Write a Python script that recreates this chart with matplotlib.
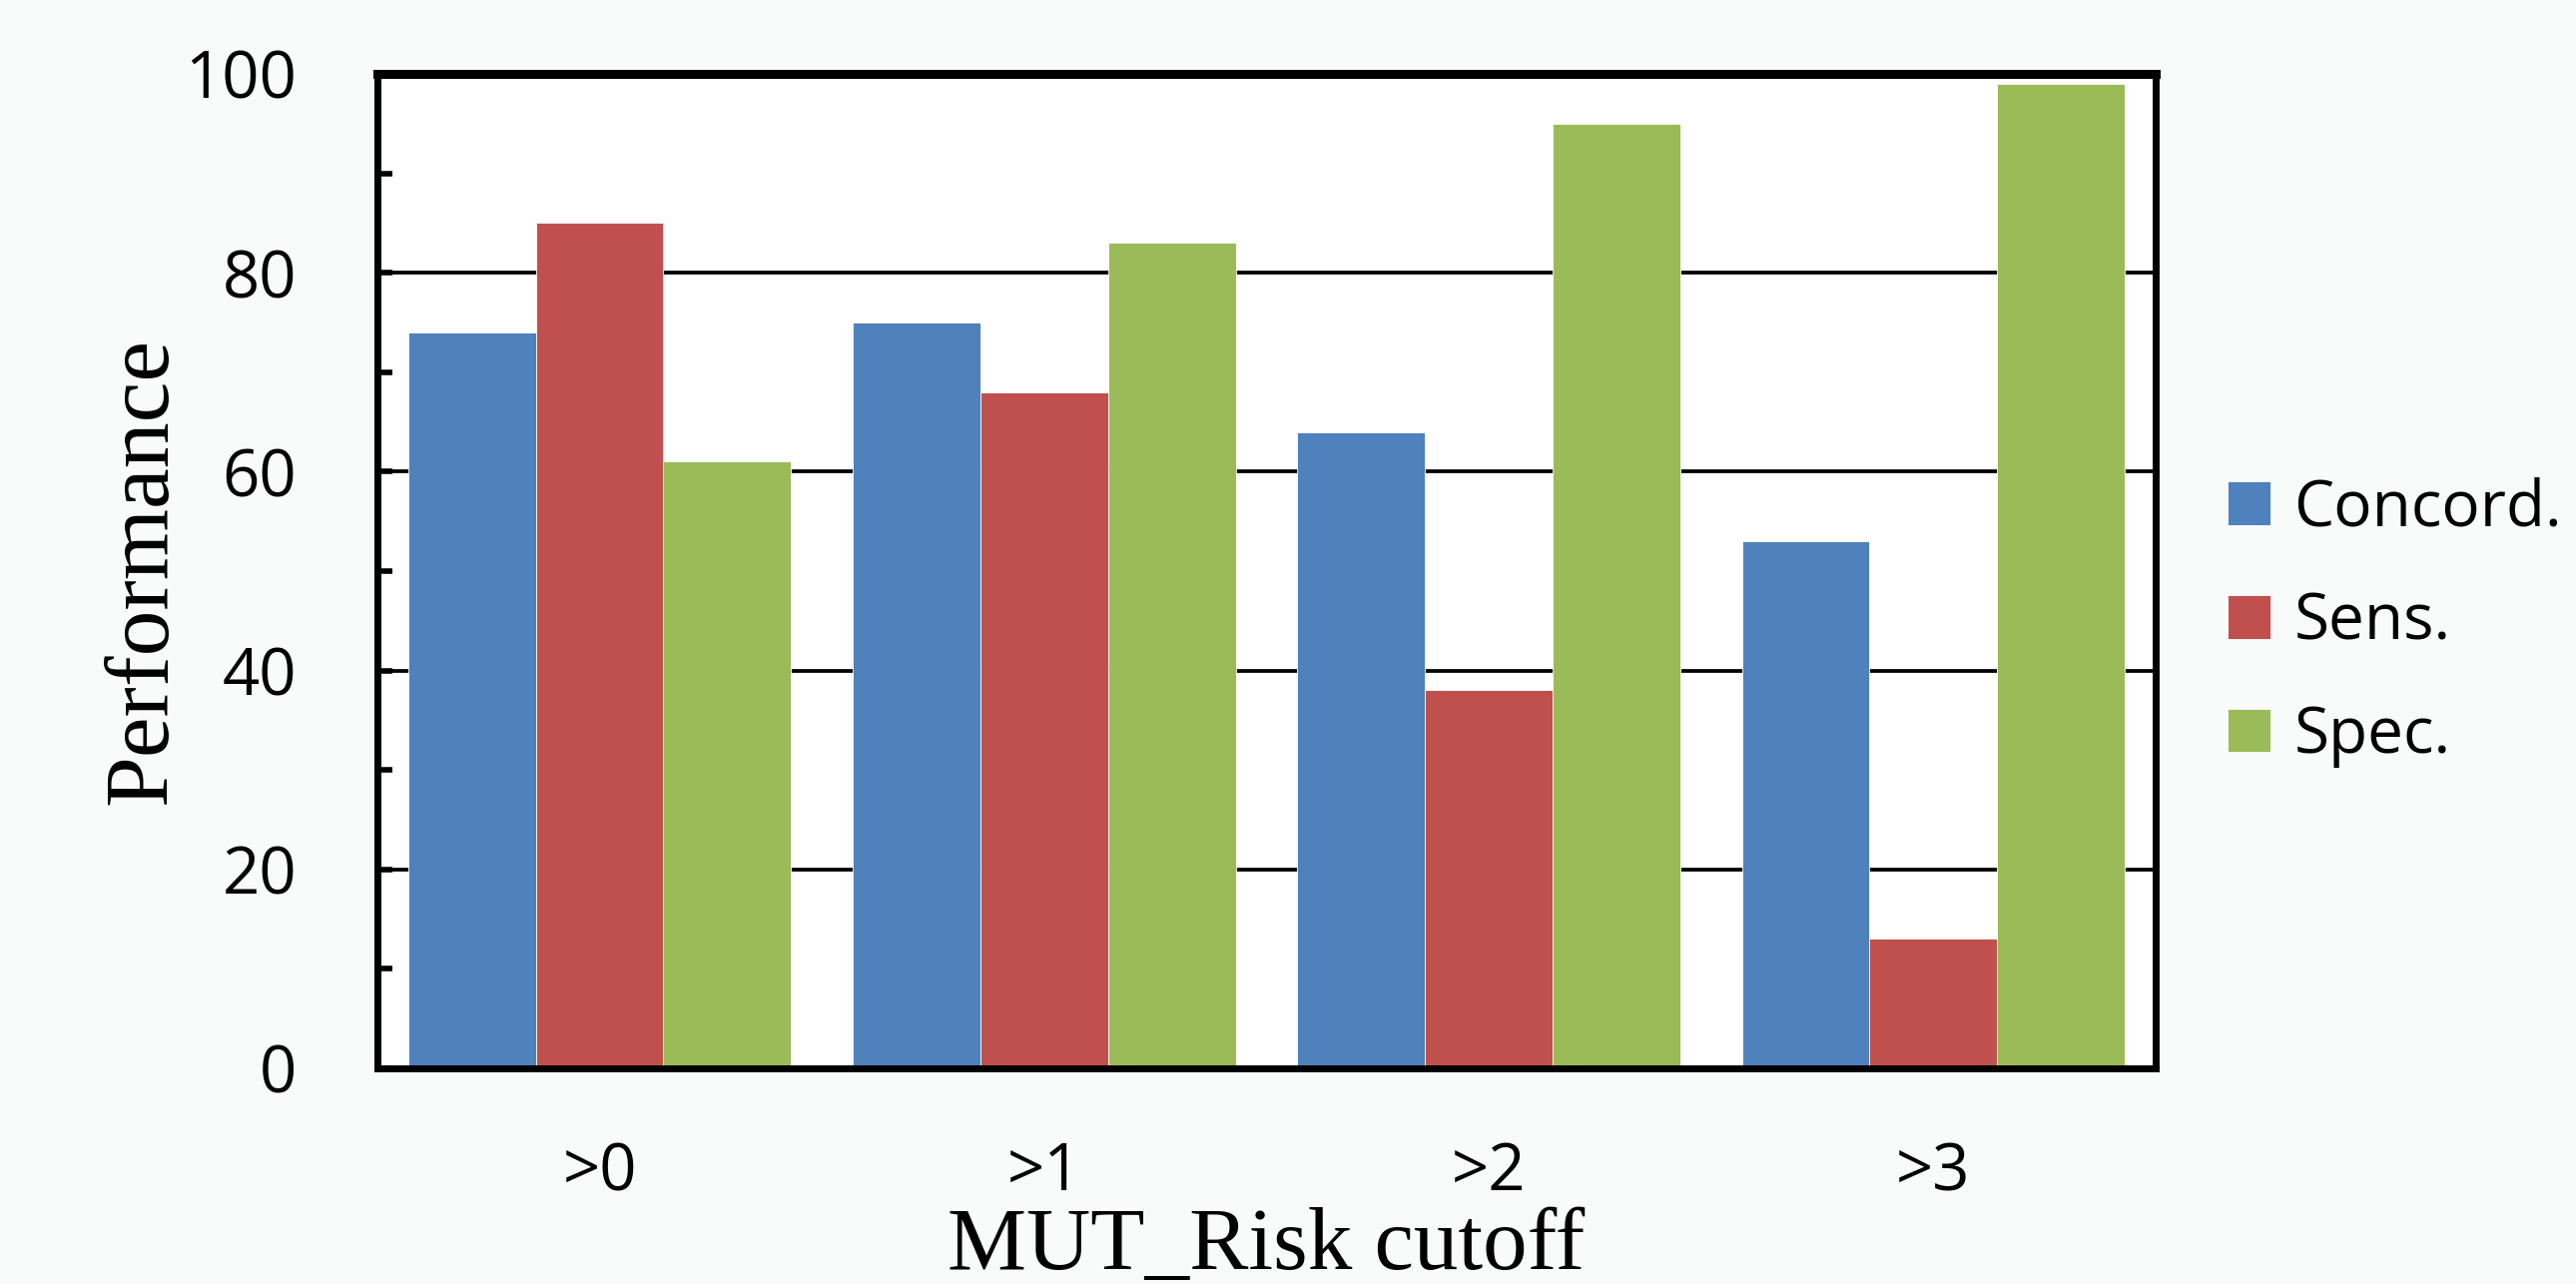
import matplotlib.pyplot as plt
import numpy as np

# values
cutoffs = ['>0', '>1', '>2', '>3']
concord = [74, 75, 64, 53]
sens = [85, 68, 38, 13]
spec = [61, 83, 95, 99]
series_names = ['Concord.', 'Sens.', 'Spec.']
colors = ['#4F81BD', '#C0504D', '#9BBB59']

fig = plt.figure(figsize=(25.8, 12.86), dpi=100, facecolor='#f9fafa')
ax = fig.add_axes([0.1465, 0.168, 0.6903, 0.7745])
ax.set_facecolor('white')

x = np.arange(len(cutoffs))
w = 0.287
for i, (vals, name, c) in enumerate(zip([concord, sens, spec], series_names, colors)):
    ax.bar(x + (i - 1) * w, vals, width=w, color=c, label=name, zorder=3,
           edgecolor='white', linewidth=0.6)

ax.set_xlim(-0.5, 3.5)
ax.set_ylim(0, 100)
ax.set_yticks([0, 20, 40, 60, 80, 100])
ax.set_yticks([10, 30, 50, 70, 90], minor=True)
ax.set_xticks(x)
ax.set_xticklabels(cutoffs)

tick_font = 'Open Sans'
for lab in ax.get_xticklabels() + ax.get_yticklabels():
    lab.set_fontfamily(tick_font)
    lab.set_fontsize(47)

ax.yaxis.grid(True, color='black', linewidth=2.7, zorder=1)
ax.set_axisbelow(True)
ax.tick_params(axis='y', which='major', direction='in', length=11, width=4, pad=58)
ax.tick_params(axis='y', which='minor', direction='in', length=11, width=4)
ax.tick_params(axis='x', length=0, pad=52)

for side in ['left', 'right', 'bottom']:
    ax.spines[side].set_linewidth(5)
ax.spines['top'].set_linewidth(6.5)
for s in ax.spines.values():
    s.set_zorder(4)

ax.set_ylabel('Performance', family='Liberation Serif', fontsize=66)
ax.set_xlabel('MUT_Risk cutoff', family='Liberation Serif', fontsize=64)
ax.yaxis.set_label_coords(-0.108, 0.5)
ax.xaxis.set_label_coords(0.5, -0.14)

fig.legend(loc='center left', bbox_to_anchor=(0.8647, 0.5155), frameon=False,
           prop={'family': tick_font, 'size': 46}, handlelength=0.68, handleheight=0.68,
           handletextpad=0.36, labelspacing=0.78, borderpad=0, borderaxespad=0)

fig.savefig('out.png', dpi=100, facecolor=fig.get_facecolor())
